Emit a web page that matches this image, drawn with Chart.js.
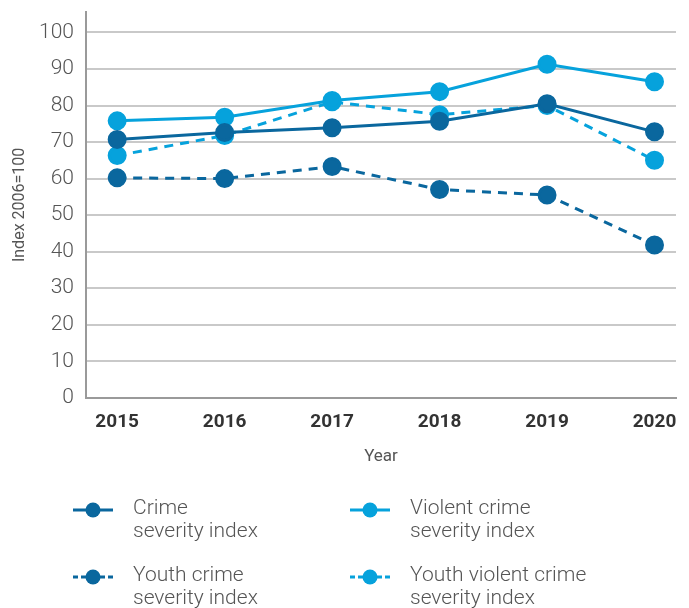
<!DOCTYPE html>
<html>
<head>
<meta charset="utf-8">
<script src="https://cdn.jsdelivr.net/npm/chart.js@4.4.1/dist/chart.umd.min.js"></script>
<style>
  html, body { margin: 0; padding: 0; background: #fff; }
  #wrap { width: 689px; height: 608px; position: relative; }
</style>
</head>
<body>
<div id="wrap"><canvas id="chart" width="689" height="608"></canvas></div>
<script>
  // data
  var years = [2015, 2016, 2017, 2018, 2019, 2020];
  var crimeSeverity = [70.7, 72.6, 73.9, 75.7, 80.5, 72.8];
  var violentSeverity = [75.8, 76.8, 81.4, 83.8, 91.3, 86.5];
  var youthSeverity = [60.2, 60.0, 63.3, 57.0, 55.5, 41.8];
  var youthViolentSeverity = [66.3, 71.8, 81.0, 77.5, 80.0, 65.0];
  var seriesLabels = [
    ["Crime", "severity index"],
    ["Violent crime", "severity index"],
    ["Youth crime", "severity index"],
    ["Youth violent crime", "severity index"]
  ];
  var yTicks = [0, 10, 20, 30, 40, 50, 60, 70, 80, 90, 100];

  var DARK = '#0a679e';
  var LIGHT = '#06a2dc';

  function pts(vals) {
    return years.map(function(y, i) { return { x: y, y: vals[i] }; });
  }

  function ds(label, vals, color, dashed) {
    return {
      label: label,
      data: pts(vals),
      borderColor: color,
      backgroundColor: color,
      pointBackgroundColor: color,
      pointBorderColor: color,
      borderWidth: 3,
      borderDash: dashed ? [9, 7] : [],
      pointRadius: 8,
      pointHoverRadius: 8,
      tension: 0
    };
  }

  // legend drawn on the canvas, 2x2 grid
  var gridLegend = {
    id: 'gridLegend',
    afterDraw: function(chart) {
      var ctx = chart.ctx;
      var cols = [73, 350];
      var rows = [510, 577];
      chart.data.datasets.forEach(function(d, i) {
        var x = cols[i % 2];
        var y = rows[Math.floor(i / 2)];
        ctx.save();
        ctx.strokeStyle = d.borderColor;
        ctx.lineWidth = 3;
        if (d.borderDash.length) {
          ctx.setLineDash([5, 3]);
          ctx.beginPath();
          ctx.moveTo(x, y); ctx.lineTo(x + 13, y);
          ctx.moveTo(x + 27, y); ctx.lineTo(x + 40, y);
          ctx.stroke();
        } else {
          ctx.beginPath();
          ctx.moveTo(x, y); ctx.lineTo(x + 40, y);
          ctx.stroke();
        }
        ctx.setLineDash([]);
        ctx.fillStyle = d.borderColor;
        ctx.beginPath();
        ctx.arc(x + 20, y, 7.5, 0, Math.PI * 2);
        ctx.fill();
        ctx.fillStyle = '#555';
        ctx.font = '300 21px Roboto';
        ctx.textBaseline = 'middle';
        d.label.forEach(function(line, j) {
          ctx.fillText(line, x + 60, y - 1 + j * 23);
        });
        ctx.restore();
      });
    }
  };

  var config = {
    type: 'line',
    data: {
      datasets: [
        ds(seriesLabels[0], crimeSeverity, DARK, false),
        ds(seriesLabels[1], violentSeverity, LIGHT, false),
        ds(seriesLabels[2], youthSeverity, DARK, true),
        ds(seriesLabels[3], youthViolentSeverity, LIGHT, true)
      ]
    },
    options: {
      responsive: false,
      animation: false,
      layout: { padding: { top: 0, right: 13, bottom: 137, left: 6 } },
      plugins: {
        legend: { display: false },
        tooltip: { enabled: false }
      },
      scales: {
        x: {
          type: 'linear',
          min: 2014.71,
          max: 2020.2,
          grid: { display: false },
          border: { display: true, color: '#9a9a9a', width: 2 },
          afterBuildTicks: function(axis) {
            axis.ticks = years.map(function(v) { return { value: v }; });
          },
          ticks: {
            padding: 5,
            color: '#333',
            font: { family: 'Roboto', size: 19, weight: 'bold' },
            callback: function(v) { return String(v); }
          },
          title: {
            display: true,
            text: 'Year',
            color: '#555',
            padding: { top: 8 },
            font: { family: 'Roboto', size: 17 }
          }
        },
        y: {
          min: 0,
          max: 105.6,
          afterFit: function(scale) {
            scale.width = 80;
            scale.paddingTop = 12;
          },
          grid: { color: '#c9c9c9', lineWidth: 2, drawTicks: false },
          border: { display: true, color: '#9a9a9a', width: 2 },
          afterBuildTicks: function(axis) {
            axis.ticks = yTicks.map(function(v) { return { value: v }; });
          },
          ticks: {
            padding: 12,
            color: '#555',
            font: { family: 'Roboto', size: 21, weight: 300 }
          },
          title: {
            display: true,
            text: 'Index 2006=100',
            color: '#555',
            padding: { top: 4, bottom: 0 },
            font: { family: 'Roboto', size: 16 }
          }
        }
      }
    },
    plugins: [gridLegend]
  };

  var ctx = document.getElementById('chart').getContext('2d');
  var myChart = new Chart(ctx, config);
</script>
</body>
</html>
